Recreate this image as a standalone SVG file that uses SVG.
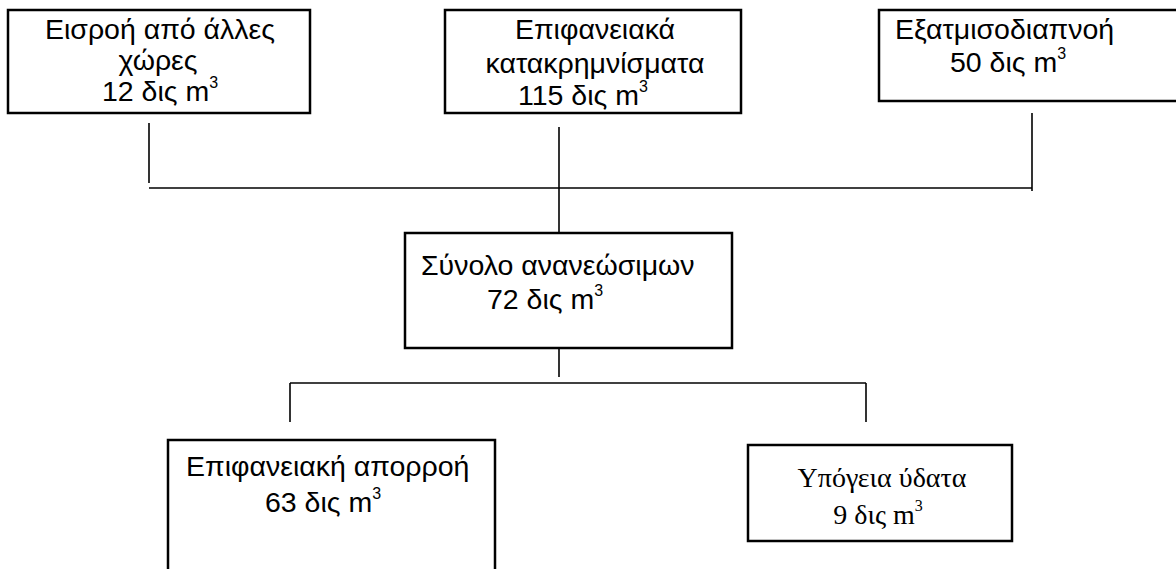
<svg xmlns="http://www.w3.org/2000/svg" width="1176" height="569" viewBox="0 0 1176 569">
<style>
.box{fill:#fff;stroke:#000;stroke-width:2.5}
.ln{stroke:#000;stroke-width:1.6;fill:none}
.t{font-family:"Liberation Sans",Arial,sans-serif;font-size:28.5px;fill:#000}
.s{font-family:"Liberation Serif","Times New Roman",serif;font-size:28px;fill:#000}
.sup{font-size:16px}
</style>
<rect width="1176" height="569" fill="#fff"/>
<g id="connectors">
<line class="ln" x1="149" y1="123" x2="149" y2="183"/>
<line class="ln" x1="149" y1="188" x2="1032" y2="188"/>
<line class="ln" x1="559" y1="127" x2="559" y2="232"/>
<line class="ln" x1="1032" y1="113" x2="1032" y2="191"/>
<line class="ln" x1="559" y1="338" x2="559" y2="377"/>
<line class="ln" x1="290" y1="383" x2="866" y2="383"/>
<line class="ln" x1="290" y1="383" x2="290" y2="422"/>
<line class="ln" x1="866" y1="383" x2="866" y2="422"/>
</g>
<g id="n1">
<rect class="box" x="8" y="10" width="302" height="103"/>
<text class="t" x="160" y="39" text-anchor="middle">Εισροή από άλλες</text>
<text class="t" x="158" y="70" text-anchor="middle">χώρες</text>
<text class="t" x="102" y="101">12 δις m<tspan class="sup" dy="-13">3</tspan></text>
</g>
<g id="n2">
<rect class="box" x="445" y="10" width="296" height="103"/>
<text class="t" x="595" y="39" text-anchor="middle">Επιφανειακά</text>
<text class="t" x="595" y="73" text-anchor="middle">κατακρημνίσματα</text>
<text class="t" x="518" y="105">115 δις m<tspan class="sup" dy="-13">3</tspan></text>
</g>
<g id="n3">
<rect class="box" x="879" y="10" width="300" height="91"/>
<text class="t" x="895" y="39">Εξατμισοδιαπνοή</text>
<text class="t" x="950" y="72">50 δις m<tspan class="sup" dy="-13">3</tspan></text>
</g>
<g id="n4">
<rect class="box" x="405" y="233" width="327" height="115"/>
<text class="t" x="421" y="275">Σύνολο ανανεώσιμων</text>
<text class="t" x="487" y="309">72 δις m<tspan class="sup" dy="-13">3</tspan></text>
</g>
<g id="n5">
<rect class="box" x="168" y="440" width="327" height="140"/>
<text class="t" x="186" y="476">Επιφανειακή απορροή</text>
<text class="t" x="265" y="512">63 δις m<tspan class="sup" dy="-13">3</tspan></text>
</g>
<g id="n6">
<rect class="box" x="748" y="445" width="264" height="96"/>
<text class="s" x="882" y="487" text-anchor="middle">Υπόγεια ύδατα</text>
<text class="s" x="878" y="524" text-anchor="middle">9 δις m<tspan class="sup" dy="-13">3</tspan></text>
</g>
</svg>
